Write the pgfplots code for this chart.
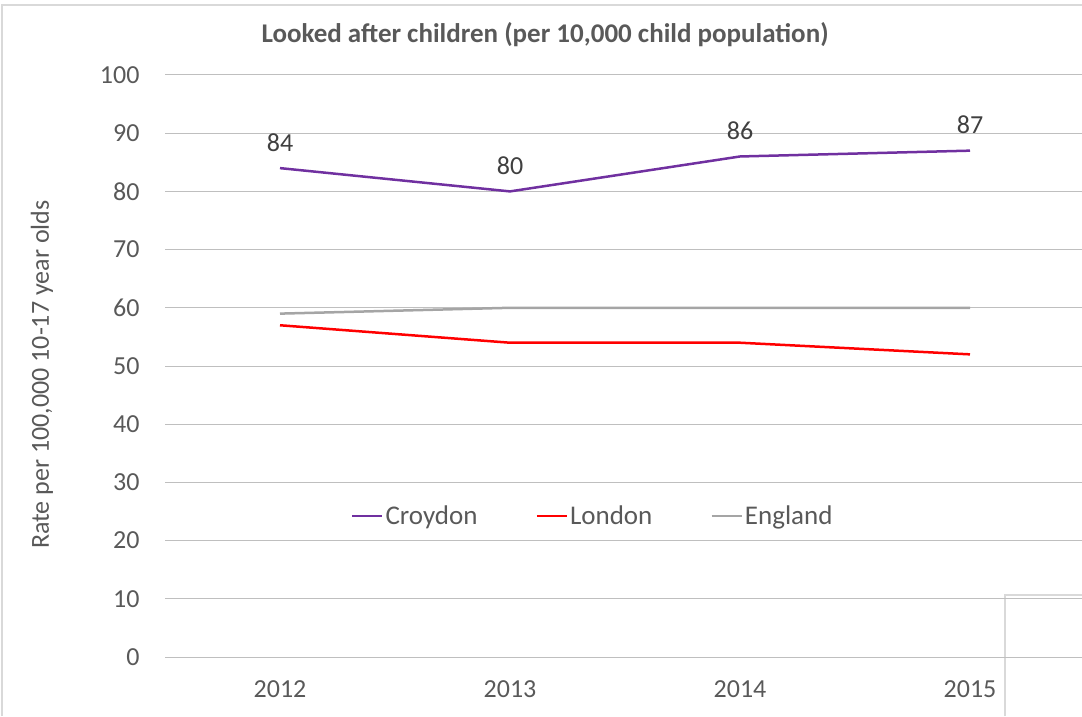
\documentclass[border=0pt]{standalone}
\usepackage{pgfplots}
\pgfplotsset{compat=1.18}
\usepackage{fontspec}
\setmainfont{Carlito}
\definecolor{txt}{HTML}{595959}
\definecolor{grid}{HTML}{D9D9D9}
\definecolor{croy}{HTML}{7030A0}
\definecolor{lond}{HTML}{FF0000}
\definecolor{engl}{HTML}{A5A5A5}
\begin{document}
\begin{tikzpicture}[x=1pt,y=1pt]
\path[use as bounding box] (0,0) rectangle (1082,716);
\draw[grid, line width=1.5pt] (2,0) -- (2,711) -- (1082,711);
\draw[grid, line width=1.5pt] (1005,0) -- (1005,121) -- (1090,121);
\node[text=txt, font=\fontsize{27}{32}\selectfont\bfseries] at (545,681) {Looked after children (per 10,000 child population)};
\begin{axis}[
  at={(165pt,59pt)}, anchor=south west,
  width=920pt, height=582pt, scale only axis,
  xmin=-0.5, xmax=3.5, ymin=0, ymax=100,
  xtick={0,1,2,3}, xticklabels={2012,2013,2014,2015},
  ytick={0,10,...,100},
  xmajorgrids=false, ymajorgrids=true, major grid style={grid, line width=1pt},
  axis line style={draw=none}, tick style={draw=none},
  ticklabel style={text=txt, font=\fontsize{26}{31}\selectfont},
  /pgf/number format/assume math mode=true,
  yticklabel style={xshift=-22pt},
  xticklabel style={yshift=-20pt},
  ylabel={Rate per 100,000 10-17 year olds},
  ylabel style={text=txt, font=\fontsize{26}{31}\selectfont, at={(rel axis cs:-0.1337,0.485)}, rotate=0, anchor=center},
  clip=false,
  legend columns=3,
  legend style={draw=none, fill=none, at={(0.465,0.242)}, anchor=center,
    font=\fontsize{27}{32}\selectfont, text=txt,
    /tikz/every even column/.append style={column sep=56pt}},
  legend image code/.code={\draw[#1] (0pt,0pt) -- (30pt,0pt);},
]
\addplot[croy, line width=2.5pt, nodes near coords, point meta=explicit symbolic,
  every node near coord/.append style={text=black!75, font=\fontsize{26}{31}\selectfont, anchor=south, yshift=12pt}]
  coordinates {(0,84)[84] (1,80)[80] (2,86)[86] (3,87)[87]};
\addlegendentry{Croydon}
\addplot[lond, line width=2.5pt] coordinates {(0,57) (1,54) (2,54) (3,52)};
\addlegendentry{London}
\addplot[engl, line width=2.5pt] coordinates {(0,59) (1,60) (2,60) (3,60)};
\addlegendentry{England}
\end{axis}
\end{tikzpicture}
\end{document}
